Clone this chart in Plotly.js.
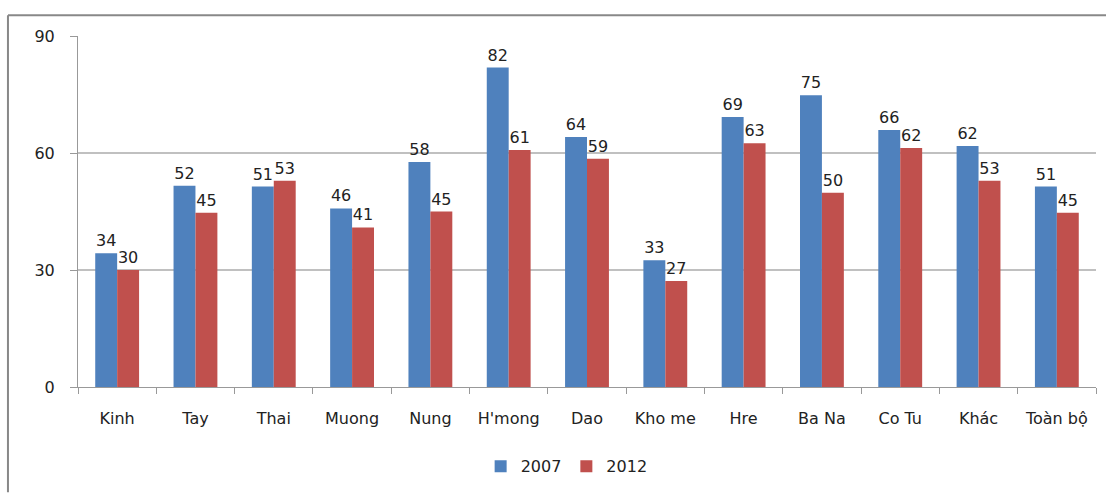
<!DOCTYPE html>
<html>
<head>
<meta charset="utf-8">
<script src="https://cdn.plot.ly/plotly-3.0.1.min.js"></script>
<style>html,body{margin:0;padding:0;background:#fff;}#chart{width:1106px;height:493px;}</style>
</head>
<body>
<div id="chart"></div>
<script>
const categories = ["Kinh", "Tay", "Thai", "Muong", "Nung", "H'mong", "Dao", "Kho me", "Hre", "Ba Na", "Co Tu", "Khác", "Toàn bộ"];
const values2007 = [34.3, 51.6, 51.4, 45.8, 57.7, 81.9, 64.1, 32.5, 69.2, 74.8, 65.9, 61.8, 51.4];
const values2012 = [30.0, 44.7, 52.9, 40.9, 45.0, 60.8, 58.5, 27.2, 62.5, 49.8, 61.3, 52.9, 44.7];
const labels2007 = ["34", "52", "51", "46", "58", "82", "64", "33", "69", "75", "66", "62", "51"];
const labels2012 = ["30", "45", "53", "41", "45", "61", "59", "27", "63", "50", "62", "53", "45"];
const yTicks = [0, 30, 60, 90];

const font = {family: "DejaVu Sans, Verdana, sans-serif", size: 16, color: "#222"};

const traces = [
  {type: "bar", name: "2007", x: categories, y: values2007, text: labels2007,
   textposition: "outside", constraintext: "none", cliponaxis: false, textfont: font,
   marker: {color: "#4F81BD"}, hoverinfo: "x+y"},
  {type: "bar", name: "2012", x: categories, y: values2012, text: labels2012,
   textposition: "outside", constraintext: "none", cliponaxis: false, textfont: font,
   marker: {color: "#C0504D"}, hoverinfo: "x+y"}
];

const layout = {
  width: 1106, height: 493,
  margin: {l: 78, r: 10, t: 36, b: 103},
  paper_bgcolor: "#fff", plot_bgcolor: "#fff",
  barmode: "group", bargap: 0.44, bargroupgap: 0,
  font: font,
  showlegend: true,
  legend: {orientation: "h", x: 0.48, xanchor: "center", y: -0.226, yanchor: "middle",
           font: font, traceorder: "normal"},
  xaxis: {
    type: "category", showgrid: false, showline: true, linecolor: "#999", linewidth: 1,
    ticks: "outside", tickson: "boundaries", ticklen: 6, tickcolor: "#999",
    tickfont: font, ticklabelstandoff: 17, fixedrange: true
  },
  yaxis: {
    range: [0, 90], tickvals: yTicks, ticktext: yTicks.map(String),
    showgrid: true, gridcolor: "#c0c0c0", gridwidth: 1.5, zeroline: false,
    showline: true, linecolor: "#999", linewidth: 1,
    ticks: "outside", ticklen: 7, tickcolor: "#999",
    tickfont: font, ticklabelstandoff: 12, fixedrange: true
  },
  shapes: [
    {type: "line", xref: "paper", yref: "paper", x0: -0.0688, x1: 1.02, y0: 1.0593, y1: 1.0593,
     line: {color: "#888", width: 2}},
    {type: "line", xref: "paper", yref: "paper", x0: -0.0688, x1: -0.0688, y0: 1.0593, y1: -0.3,
     line: {color: "#888", width: 2}}
  ]
};

Plotly.newPlot("chart", traces, layout, {displayModeBar: false, staticPlot: true});
</script>
</body>
</html>
